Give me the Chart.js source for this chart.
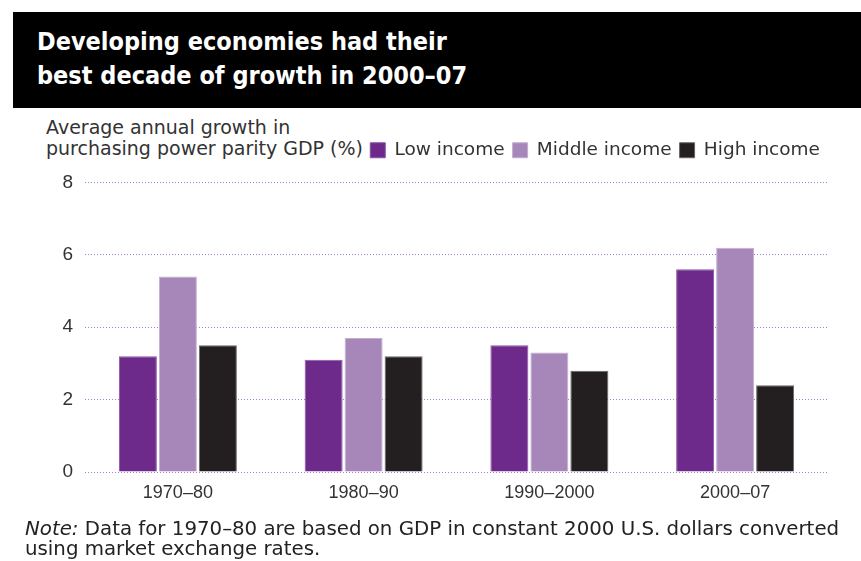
<!DOCTYPE html>
<html>
<head>
<meta charset="utf-8">
<script src="https://cdn.jsdelivr.net/npm/chart.js@4.4.1/dist/chart.umd.min.js"></script>
<style>
  html, body { margin:0; padding:0; background:#fff; }
  #wrap { position:relative; width:861px; height:561px; overflow:hidden; }
  #banner { position:absolute; left:13px; top:12px; width:848px; height:96px; background:#000; }
  #title { position:absolute; left:37px; top:25px; color:#fff; font-family:"Liberation Sans Narrow","DejaVu Sans Condensed",sans-serif; font-weight:bold; font-size:25px; line-height:34px; }
  #ytitle { position:absolute; left:46px; top:117px; color:#333; font-family:"DejaVu Sans",sans-serif; font-size:19px; line-height:21px; }
  #note { position:absolute; left:25px; top:519px; color:#222; font-family:"DejaVu Sans",sans-serif; font-size:19.8px; line-height:19.5px; }
  canvas { position:absolute; left:0; top:0; }
</style>
</head>
<body>
<div id="wrap">
  <div id="banner"></div>
  <div id="title">Developing economies had their<br>best decade of growth in 2000–07</div>
  <div id="ytitle">Average annual growth in<br>purchasing power parity GDP (%)</div>
  <canvas id="c" width="861" height="561"></canvas>
  <div id="note"><i>Note:</i> Data for 1970–80 are based on GDP in constant 2000 U.S. dollars converted<br>using market exchange rates.</div>
</div>
<script>
const categories = ["1970–80", "1980–90", "1990–2000", "2000–07"];
const lowIncome = [3.2, 3.1, 3.5, 5.6];
const middleIncome = [5.4, 3.7, 3.3, 6.2];
const highIncome = [3.5, 3.2, 2.8, 2.4];
const yTicks = [0, 2, 4, 6, 8];

const legendSpacer = {
  id: 'legendSpacer',
  afterInit(chart) {
    const lg = chart.legend;
    if (!lg) return;
    const orig = lg.fit.bind(lg);
    lg.fit = function () { orig(); this.height += 13; };
  }
};

const ctx = document.getElementById('c');
new Chart(ctx, {
  type: 'bar',
  data: {
    labels: categories,
    datasets: [
      { label: 'Low income', data: lowIncome, backgroundColor: '#6d2a8a', borderColor: '#8a55a3', borderWidth: 1 },
      { label: 'Middle income', data: middleIncome, backgroundColor: '#a787ba', borderColor: '#c4aed0', borderWidth: 1 },
      { label: 'High income', data: highIncome, backgroundColor: '#231f20', borderColor: '#6a6768', borderWidth: 1 }
    ]
  },
  plugins: [legendSpacer],
  options: {
    responsive: false,
    animation: false,
    devicePixelRatio: 1,
    layout: { padding: { top: 133, right: 33, bottom: 59, left: 0 } },
    datasets: { bar: { categoryPercentage: 0.646, barPercentage: 0.95 } },
    plugins: {
      legend: {
        display: true,
        position: 'top',
        align: 'end',
        labels: {
          boxWidth: 15, boxHeight: 15, padding: 8,
          color: '#333',
          font: { family: '"DejaVu Sans", sans-serif', size: 18.5 }
        }
      },
      tooltip: { enabled: false },
      title: { display: false }
    },
    scales: {
      x: {
        grid: { display: false, drawTicks: false },
        border: { display: false },
        ticks: { color: '#333', font: { family: '"Liberation Sans", Arial, sans-serif', size: 18 }, padding: 10 },
        afterFit: s => { s.height = 30; }
      },
      y: {
        min: 0, max: 8,
        afterBuildTicks: s => { s.ticks = yTicks.map(v => ({ value: v })); },
        grid: { color: '#a77cc0', lineWidth: 1, drawTicks: false },
        border: { display: false, dash: [1, 2] },
        ticks: { color: '#333', font: { family: '"Liberation Sans", Arial, sans-serif', size: 19 }, padding: 12 },
        afterFit: s => { s.width = 85; }
      }
    }
  }
});
</script>
</body>
</html>
